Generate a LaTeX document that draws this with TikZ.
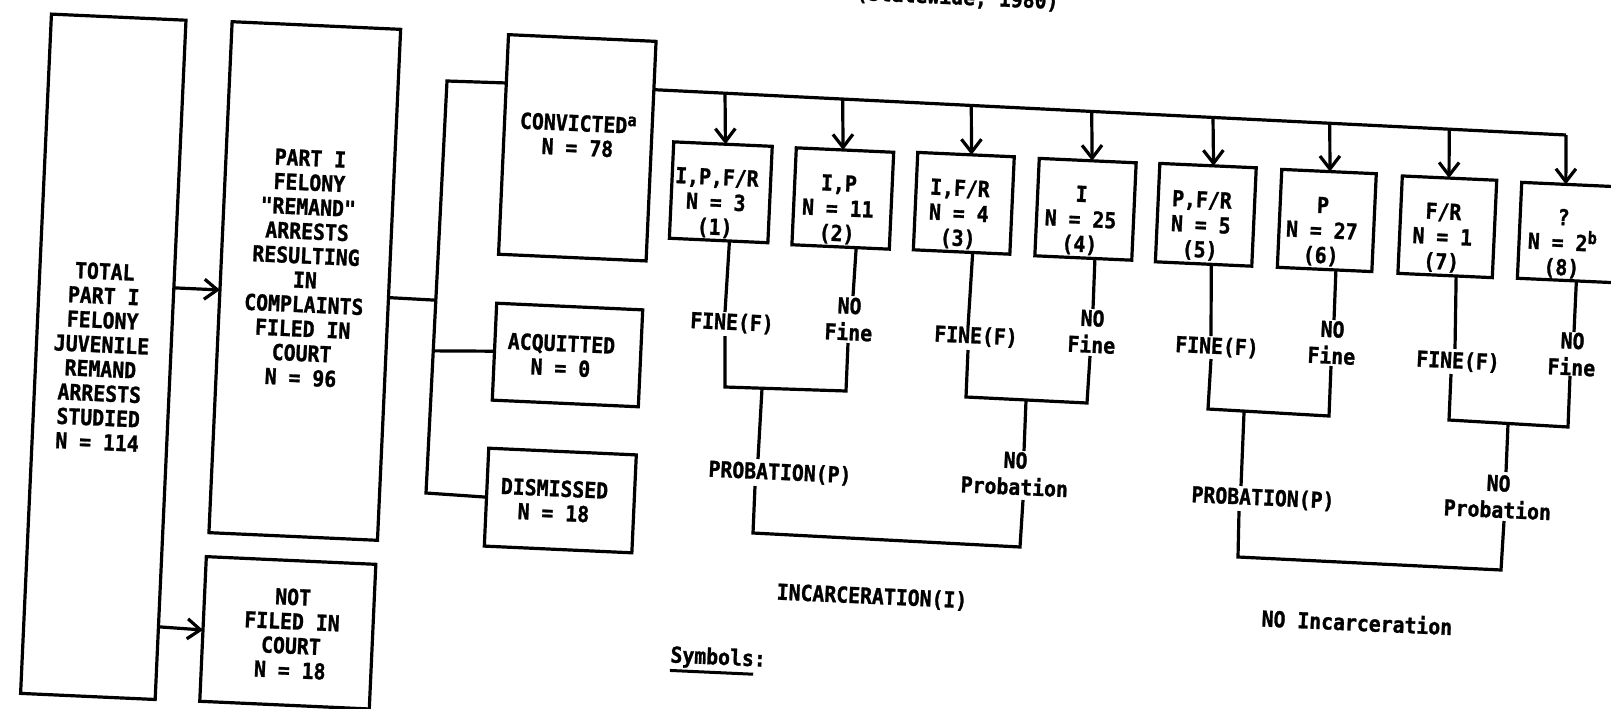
\documentclass[tikz,border=0pt]{standalone}
\usepackage{fontspec}
\setmonofont{DejaVu Sans Mono}[FakeStretch=0.9, BoldFont={DejaVu Sans Mono Bold}, BoldFeatures={FakeBold=1.2}]
\usetikzlibrary{calc,arrows.meta}
\tikzset{
  box/.style={draw, line width=3.2pt, rotate=-2.6, inner sep=0pt, outer sep=0pt},
  txt/.style={rotate=-2.6, align=center, inner sep=0pt, font=\ttfamily\bfseries\fontsize{22}{24.4}\selectfont},
  stxt/.style={txt, font=\ttfamily\bfseries\fontsize{22}{25}\selectfont},
  lbl/.style={txt, font=\ttfamily\bfseries\fontsize{22}{26.5}\selectfont},
  ln/.style={line width=3.2pt},
  arr/.style={ln, -{Straight Barb[length=13pt,width=20pt]}},
}
\begin{document}
\begin{tikzpicture}[x=1pt,y=-1pt]
\useasboundingbox (0,0) rectangle (1611,709);
\fill[white] (0,0) rectangle (1611,709);
\begin{scope}
\clip (0,0) rectangle (1611,709);
\node[txt, anchor=base] (head) at (957,4.5) {(Statewide, 1980)};

% main boxes
\node[box, minimum width=134.7pt, minimum height=680pt] (total) at (103.3,356.8) {};
\node[box, minimum width=168.7pt, minimum height=511.5pt] (filed) at (304.8,281) {};
\node[box, minimum width=169.7pt, minimum height=144.8pt] (notfiled) at (287.8,632.8) {};
\node[box, minimum width=147.7pt, minimum height=219.8pt] (conv) at (577.3,147.8) {};
\node[box, minimum width=146.2pt, minimum height=97pt] (acq) at (567.5,355) {};
\node[box, minimum width=147.7pt, minimum height=98pt] (dism) at (560.3,500.5) {};

\node[txt] (totalt) at (101,356.5) {TOTAL\\PART I\\FELONY\\JUVENILE\\REMAND\\ARRESTS\\STUDIED\\N = 114};
\node[txt] (filedt) at (305.5,268) {PART I\\FELONY\\"REMAND"\\ARRESTS\\RESULTING\\IN\\COMPLAINTS\\FILED IN\\COURT\\N = 96};
\node[txt] (notfiledt) at (291.5,633.5) {NOT\\FILED IN\\COURT\\N = 18};
\node[txt] (convt) at (578,135) {CONVICTED\textsuperscript{\fontsize{17}{17}\selectfont a}\\N = 78};
\node[txt] (acqt) at (561,355.5) {ACQUITTED\\N = 0};
\node[txt] (dismt) at (554,500.5) {DISMISSED\\N = 18};

% outcome boxes
\node[box, minimum width=98.6pt, minimum height=96.5pt] (b1) at (720.8,192.3) {};
\node[box, minimum width=97.5pt, minimum height=97pt] (b2) at (842.8,198.5) {};
\node[box, minimum width=96.6pt, minimum height=97.5pt] (b3) at (963.8,203.3) {};
\node[box, minimum width=97pt, minimum height=97.5pt] (b4) at (1085.5,209.3) {};
\node[box, minimum width=96.5pt, minimum height=98.5pt] (b5) at (1205.8,214.8) {};
\node[box, minimum width=94.6pt, minimum height=98pt] (b6) at (1326.8,220.5) {};
\node[box, minimum width=94.5pt, minimum height=97.5pt] (b7) at (1447.3,226.8) {};
\node[box, minimum width=96pt, minimum height=96pt] (b8) at (1567.5,232.5) {};

\node[stxt] (t1) at ($(b1.center)+(-5,11)$) {I,P,F/R\\N = 3\\(1)};
\node[stxt] (t2) at ($(b2.center)+(-5,11)$) {I,P\\N = 11\\(2)};
\node[stxt] (t3) at ($(b3.center)+(-5,11)$) {I,F/R\\N = 4\\(3)};
\node[stxt] (t4) at ($(b4.center)+(-5,11)$) {I\\N = 25\\(4)};
\node[stxt] (t5) at ($(b5.center)+(-5,11)$) {P,F/R\\N = 5\\(5)};
\node[stxt] (t6) at ($(b6.center)+(-5,11)$) {P\\N = 27\\(6)};
\node[stxt] (t7) at ($(b7.center)+(-5,11)$) {F/R\\N = 1\\(7)};
\node[stxt] (t8) at ($(b8.center)+(-5,11)$) {?\\N = 2\textsuperscript{\fontsize{17}{17}\selectfont b}\\(8)};

% labels
\node[lbl] (fA) at (732,323) {FINE(F)};
\node[lbl] (nfA) at (849,319) {NO\\Fine};
\node[lbl] (fB) at (976,336.5) {FINE(F)};
\node[lbl] (nfB) at (1092,331.5) {NO\\Fine};
\node[lbl] (fC) at (1217,347) {FINE(F)};
\node[lbl] (nfC) at (1332,342.5) {NO\\Fine};
\node[lbl] (fD) at (1458,361.5) {FINE(F)};
\node[lbl] (nfD) at (1572,354) {NO\\Fine};
\node[lbl] (pA) at (780,473) {PROBATION(P)};
\node[lbl] (npB) at (1015,473.5) {NO\\Probation};
\node[lbl] (pC) at (1263,498.5) {PROBATION(P)};
\node[lbl] (npD) at (1498,496.5) {NO\\Probation};
\node[lbl] (inc) at (872,597) {INCARCERATION(I)};
\node[lbl] (noinc) at (1357,622) {NO Incarceration};
\node[lbl] (sym) at (718,661) {\setbox0=\hbox{Symbols}\rlap{\rule[-9.5pt]{\wd0}{3pt}}\box0:};

% left arrows
\draw[arr] ($(total.north east)!0.394!(total.south east)$) -- ($(filed.north west)!0.525!(filed.south west)$);
\draw[arr] ($(total.north east)!0.893!(total.south east)$) -- ($(notfiled.north west)!0.507!(notfiled.south west)$);

% bracket to verdicts
\coordinate (kT) at (447,81);
\coordinate (kB) at (426,493);
\coordinate (kM) at ($(kT)!0.532!(kB)$);
\coordinate (kA) at ($(kT)!0.655!(kB)$);
\draw[ln] ($(filed.north east)!0.525!(filed.south east)$) -- (kM);
\draw[ln] ($(conv.north west)!0.22!(conv.south west)$) -- (kT) -- (kB) -- ($(dism.north west)!0.5!(dism.south west)$);
\draw[ln] (kA) -- ($(acq.north west)!0.495!(acq.south west)$);

% top distribution line
\coordinate (tS) at ($(conv.north east)!0.22!(conv.south east)$);
\coordinate (tE) at (1566,135);
\draw[ln] (tS) -- (tE);
\draw[arr] ($(tS)!0.078!(tE)$) -- ($(b1.north west)!0.525!(b1.north east)$);
\draw[arr] ($(tS)!0.207!(tE)$) -- ($(b2.north west)!0.48!(b2.north east)$);
\draw[arr] ($(tS)!0.348!(tE)$) -- ($(b3.north west)!0.557!(b3.north east)$);
\draw[arr] ($(tS)!0.480!(tE)$) -- ($(b4.north west)!0.546!(b4.north east)$);
\draw[arr] ($(tS)!0.613!(tE)$) -- ($(b5.north west)!0.557!(b5.north east)$);
\draw[arr] ($(tS)!0.741!(tE)$) -- ($(b6.north west)!0.51!(b6.north east)$);
\draw[arr] ($(tS)!0.872!(tE)$) -- ($(b7.north west)!0.495!(b7.north east)$);
\draw[arr] (tE) -- ($(b8.north west)!0.46!(b8.north east)$);

% group A
\coordinate (a1) at (725,312); \coordinate (a2) at (725,336);
\coordinate (cA1) at (725,387); \coordinate (cA2) at (846,391);
\coordinate (a3) at (848,343); \coordinate (a4) at (853,296);
\coordinate (mA) at ($(cA1)!0.306!(cA2)$);
\coordinate (a5) at (758,459); \coordinate (a6) at (755,486);
\coordinate (cAB1) at (753,533); \coordinate (cB3) at (1020,547);
\coordinate (bb6) at (1023,500);
\draw[ln] ($(b1.south west)!0.61!(b1.south east)$) -- (a1);
\draw[ln] (a2) -- (cA1) -- (cA2) -- (a3);
\draw[ln] ($(b2.south west)!0.66!(b2.south east)$) -- (a4);
\draw[ln] (mA) -- (a5);
\draw[ln] (a6) -- (cAB1) -- (cB3) -- (bb6);

% group B
\coordinate (bb1) at (968,327); \coordinate (bb2) at (968,350);
\coordinate (cB1) at (966,397); \coordinate (cB2) at (1087,403);
\coordinate (bb3) at (1090,356); \coordinate (bb4) at (1093,309);
\coordinate (mB) at ($(cB1)!0.496!(cB2)$);
\coordinate (bb5) at (1024,451);
\draw[ln] ($(b3.south west)!0.615!(b3.south east)$) -- (bb1);
\draw[ln] (bb2) -- (cB1) -- (cB2) -- (bb3);
\draw[ln] ($(b4.south west)!0.62!(b4.south east)$) -- (bb4);
\draw[ln] (mB) -- (bb5);

% group C
\coordinate (c1) at (1211,336); \coordinate (c2) at (1211,359);
\coordinate (cC1) at (1208,409); \coordinate (cC2) at (1329,416);
\coordinate (c3) at (1331,366); \coordinate (c4) at (1334,320);
\coordinate (mC) at ($(cC1)!0.298!(cC2)$);
\coordinate (c5) at (1241,486); \coordinate (c6) at (1239,511);
\coordinate (cCD1) at (1238,557); \coordinate (cD3) at (1501,570);
\coordinate (d6) at (1504,521);
\draw[ln] ($(b5.south west)!0.58!(b5.south east)$) -- (c1);
\draw[ln] (c2) -- (cC1) -- (cC2) -- (c3);
\draw[ln] ($(b6.south west)!0.62!(b6.south east)$) -- (c4);
\draw[ln] (mC) -- (c5);
\draw[ln] (c6) -- (cCD1) -- (cD3) -- (d6);

% group D
\coordinate (d1) at (1455,349); \coordinate (d2) at (1451,374);
\coordinate (cD1) at (1449,420); \coordinate (cD2) at (1568,427);
\coordinate (d3) at (1570,376); \coordinate (d4) at (1574,332);
\coordinate (mD) at ($(cD1)!0.496!(cD2)$);
\coordinate (d5) at (1506,472);
\draw[ln] ($(b7.south west)!0.617!(b7.south east)$) -- (d1);
\draw[ln] (d2) -- (cD1) -- (cD2) -- (d3);
\draw[ln] ($(b8.south west)!0.615!(b8.south east)$) -- (d4);
\draw[ln] (mD) -- (d5);
\end{scope}
\end{tikzpicture}
\end{document}
